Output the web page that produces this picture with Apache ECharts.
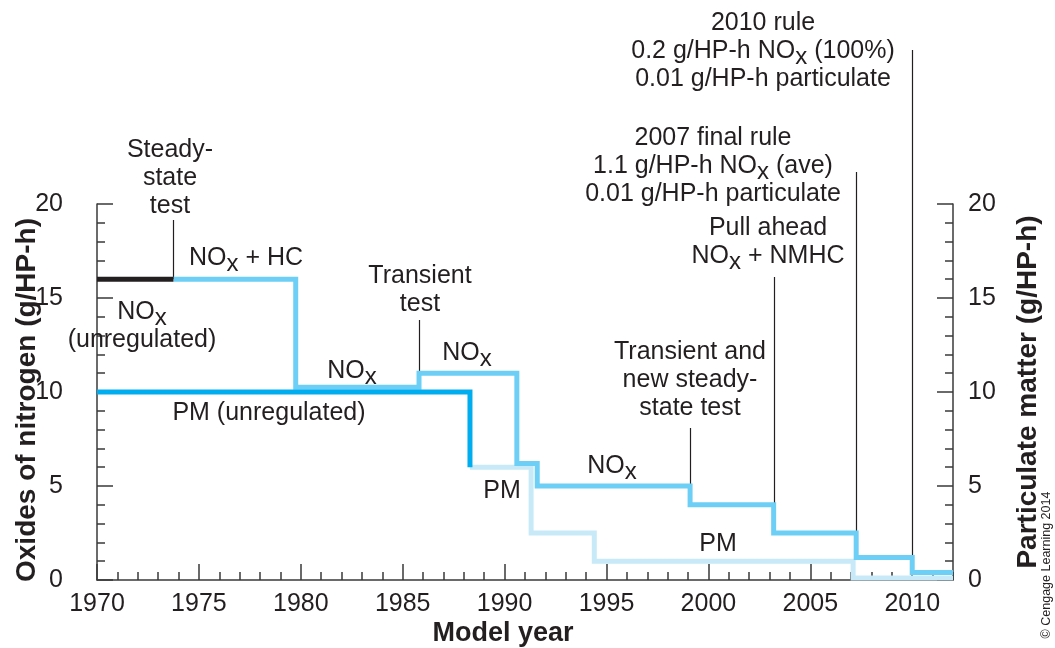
<!DOCTYPE html>
<html>
<head>
<meta charset="utf-8">
<script src="https://cdn.jsdelivr.net/npm/echarts@6/dist/echarts.min.js"></script>
<style>
  html, body { margin: 0; padding: 0; background: #fff; }
  #chart { width: 1055px; height: 648px; }
</style>
</head>
<body>
<div id="chart"></div>
<script>
// Heavy-duty diesel emission standards by model year
const yearLabels = [1970, 1975, 1980, 1985, 1990, 1995, 2000, 2005, 2010];

// NOx before regulation (black)
const noxUnregYears = [1970, 1973.75];
const noxUnregLevels = [16, 16];

// Regulated NOx (NOx + HC, NOx, NOx + NMHC), value holds until the next year
const noxYears  = [1973.75, 1979.75, 1985.8, 1990.6, 1991.6, 1999.1, 2003.2, 2007.25, 2010, 2012];
const noxLevels = [16,      10.25,   11,     6.2,    5,      4,      2.5,    1.2,     0.4,  0.4];

// Particulate matter before regulation
const pmUnregYears  = [1970, 1988.3];
const pmUnregLevels = [10,   6];

// Regulated particulate matter
const pmYears  = [1988.3, 1991.3, 1994.4, 2007.1, 2012];
const pmLevels = [6,      2.5,    1,      0.1,    0.1];

// Rule changes marked with a leader line (years from noxYears)
const ruleYears = [1973.75, 1985.8, 1999.1, 2003.2, 2007.25, 2010];

const FONT = '"Liberation Sans", Arial, Helvetica, sans-serif';
const INK = '#231f20';
const AXIS = '#3a3a3a';
const C_NOX = '#6dcff6';
const C_PM_DARK = '#00aeef';
const C_PM_LIGHT = '#c8eaf8';

const pairs = (xs, ys) => xs.map((x, i) => [x, ys[i]]);

const chart = echarts.init(document.getElementById('chart'));

const yAxisBase = {
  type: 'value', min: 0, max: 20, interval: 5,
  axisLine: { show: true, lineStyle: { color: AXIS, width: 1.5 } },
  axisTick: { show: true, inside: true, length: 16, lineStyle: { color: AXIS, width: 1.5 } },
  minorTick: { show: true, splitNumber: 5, length: 8, lineStyle: { color: AXIS, width: 1.5 } },
  splitLine: { show: false },
  minorSplitLine: { show: false },
  axisLabel: { color: INK, fontSize: 25, fontFamily: FONT }
};

const lineSeries = (name, data, color, z) => ({
  name, type: 'line', step: 'end', data,
  symbol: 'none', showSymbol: false, z,
  lineStyle: { color, width: 5, join: 'miter', cap: 'butt' },
  emphasis: { disabled: true }
});

chart.setOption({
  animation: false,
  grid: { left: 97, right: 102, top: 204, bottom: 68 },
  xAxis: [
    {
      type: 'value', min: 1970, max: 2012, interval: 1, position: 'bottom',
      axisLine: { show: true, lineStyle: { color: AXIS, width: 1.5 } },
      axisTick: { show: true, inside: true, length: 8, lineStyle: { color: AXIS, width: 1.5 } },
      axisLabel: { show: false },
      splitLine: { show: false }
    },
    {
      type: 'value', min: 1970, max: 2012, position: 'bottom',
      axisLine: { show: false },
      axisTick: { show: true, inside: true, length: 16, customValues: yearLabels,
                  lineStyle: { color: AXIS, width: 1.5 } },
      axisLabel: { customValues: yearLabels, formatter: v => String(v),
                   color: INK, fontSize: 25, fontFamily: FONT, margin: 12 },
      splitLine: { show: false }
    }
  ],
  yAxis: [
    Object.assign({}, yAxisBase, { position: 'left',
      axisLabel: Object.assign({}, yAxisBase.axisLabel, { margin: 34 }) }),
    Object.assign({}, yAxisBase, { position: 'right',
      axisLabel: Object.assign({}, yAxisBase.axisLabel, { margin: 15 }) })
  ],
  series: [
    lineSeries('PM', pairs(pmYears, pmLevels), C_PM_LIGHT, 2),
    lineSeries('NOx', pairs(noxYears, noxLevels), C_NOX, 3),
    lineSeries('NOx (unregulated)', pairs(noxUnregYears, noxUnregLevels), INK, 4),
    lineSeries('PM (unregulated)', pairs(pmUnregYears, pmUnregLevels), C_PM_DARK, 5)
  ]
});

// Text blocks; "{s|x}" is the subscript of NOx
const textStyle = (text, extra) => Object.assign({
  text,
  font: '25px ' + FONT,
  fill: INK,
  align: 'center', verticalAlign: 'middle',
  textAlign: 'center', textVerticalAlign: 'middle',
  lineHeight: 28,
  rich: { s: { font: '24px ' + FONT, fill: INK, lineHeight: 28, padding: [13, 0, 0, 0] } }
}, extra || {});

const label = (text, x, y, extra) => ({ type: 'text', x, y, z: 10, silent: true, style: textStyle(text, extra) });

const annotations = [
  label('Steady-\nstate\ntest', 170, 178),
  label('NO{s|x} + HC', 246, 258),
  label('NO{s|x}\n(unregulated)', 142, 326),
  label('PM (unregulated)', 269, 413),
  label('NO{s|x}', 352, 371),
  label('Transient\ntest', 420, 290),
  label('NO{s|x}', 467, 353),
  label('PM', 502, 491),
  label('Transient and\nnew steady-\nstate test', 690, 380),
  label('NO{s|x}', 612, 466),
  label('PM', 718, 544),
  label('Pull ahead\nNO{s|x} + NMHC', 768, 242),
  label('2007 final rule\n1.1 g/HP-h NO{s|x} (ave)\n0.01 g/HP-h particulate', 713, 166),
  label('2010 rule\n0.2 g/HP-h NO{s|x} (100%)\n0.01 g/HP-h particulate', 763, 51),
  label('Oxides of nitrogen (g/HP-h)', 27, 400, { font: 'bold 28px ' + FONT }),
  label('Particulate matter (g/HP-h)', 1028, 392, { font: 'bold 28px ' + FONT }),
  label('Model year', 503, 634, { font: 'bold 27px ' + FONT }),
  label('\u00a9 Cengage Learning 2014', 1047, 565, { font: '12.5px ' + FONT, lineHeight: 14 })
];
annotations[14].rotation = Math.PI / 2;
annotations[15].rotation = Math.PI / 2;
annotations[17].rotation = Math.PI / 2;

// Leader lines: from the note down to the corner of the NOx step
const leaderTops = [220, 320, 428, 277, 172, 50];
const leaders = ruleYears.map((yr, k) => {
  const i = noxYears.indexOf(yr);
  const level = Math.max(noxLevels[Math.max(i - 1, 0)], noxLevels[i]);
  const p = chart.convertToPixel({ xAxisIndex: 0, yAxisIndex: 0 }, [yr, level]);
  const x = Math.round(p[0]) + 0.5;
  return {
    type: 'line', z: 1, silent: true,
    shape: { x1: x, y1: leaderTops[k], x2: x, y2: p[1] },
    style: { stroke: INK, lineWidth: 1.2 }
  };
});

chart.setOption({ graphic: { elements: leaders.concat(annotations) } });
</script>
</body>
</html>
